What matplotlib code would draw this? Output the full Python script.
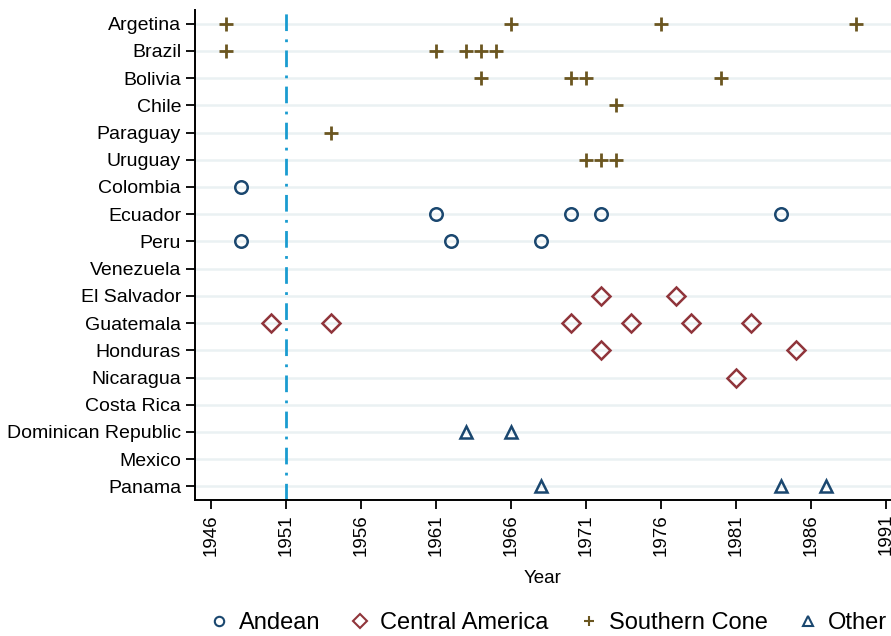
import matplotlib.pyplot as plt

plt.rcParams['font.family'] = ['Liberation Sans', 'DejaVu Sans']

countries = ['Argetina', 'Brazil', 'Bolivia', 'Chile', 'Paraguay', 'Uruguay',
             'Colombia', 'Ecuador', 'Peru', 'Venezuela',
             'El Salvador', 'Guatemala', 'Honduras', 'Nicaragua', 'Costa Rica',
             'Dominican Republic', 'Mexico', 'Panama']

# event years per country, grouped by region
southern_cone = {
    'Argetina': [1947, 1966, 1976, 1989],
    'Brazil': [1947, 1961, 1963, 1964, 1965],
    'Bolivia': [1964, 1970, 1971, 1980],
    'Chile': [1973],
    'Paraguay': [1954],
    'Uruguay': [1971, 1972, 1973],
}
andean = {
    'Colombia': [1948],
    'Ecuador': [1961, 1970, 1972, 1984],
    'Peru': [1948, 1962, 1968],
}
central_america = {
    'El Salvador': [1972, 1977],
    'Guatemala': [1950, 1954, 1970, 1974, 1978, 1982],
    'Honduras': [1972, 1985],
    'Nicaragua': [1981],
}
other = {
    'Dominican Republic': [1963, 1966],
    'Panama': [1968, 1984, 1987],
}
xticks = [1946, 1951, 1956, 1961, 1966, 1971, 1976, 1981, 1986, 1991]
cutoff_year = 1951

ypos = {c: i for i, c in enumerate(countries)}

def flatten(d):
    xs, ys = [], []
    for c, yrs in d.items():
        for y in yrs:
            xs.append(y)
            ys.append(ypos[c])
    return xs, ys

fig = plt.figure(figsize=(8.91, 6.36), dpi=100)
ax = fig.add_axes([195/891, 1-500/636, 1-195/891, 490/636])

for i in range(len(countries)):
    ax.axhline(i, color='#eaf1f3', lw=1.8, zorder=0)

ax.axvline(cutoff_year, color='#1a9cd0', lw=2, linestyle=(0, (6, 3, 1, 3)), zorder=1)

styles = [
    ('Andean', andean, 'o', '#1a476f', 9, 1.8),
    ('Central America', central_america, 'D', '#90353b', 9, 1.8),
    ('Southern Cone', southern_cone, '+', '#6b5620', 10, 2.0),
    ('Other', other, '^', '#1a476f', 9, 1.8),
]
handles = []
for label, d, m, col, ms, mew in styles:
    xs, ys = flatten(d)
    ax.plot(xs, ys, linestyle='none', marker=m, ms=ms, mew=mew,
            mfc='none', mec=col, zorder=3)
    h, = ax.plot([], [], linestyle='none', marker=m, ms=ms * 0.75, mew=1.5,
                 mfc='none', mec=col, label=label)
    handles.append(h)

ax.set_ylim(len(countries) - 0.5, -0.5)
ax.set_xlim(1944.93, 1991.33)
ax.set_yticks(range(len(countries)))
ax.set_yticklabels(countries, fontsize=14)
ax.set_xticks(xticks)
ax.set_xticklabels([str(x) for x in xticks], rotation=90, fontsize=13.5)
ax.tick_params(axis='both', direction='out', length=6.5, width=1.3, colors='black')
ax.set_xlabel('Year', fontsize=13.5, labelpad=10)

for s in ['top', 'right']:
    ax.spines[s].set_visible(False)
for s in ['left', 'bottom']:
    ax.spines[s].set_linewidth(1.4)

fig.legend(handles=handles, loc='center', bbox_to_anchor=(547/891, 1-623/636),
           ncol=4, frameon=False, fontsize=17, handletextpad=0.35,
           columnspacing=1.2, handlelength=1.0)

fig.savefig('out.png', dpi=100)
